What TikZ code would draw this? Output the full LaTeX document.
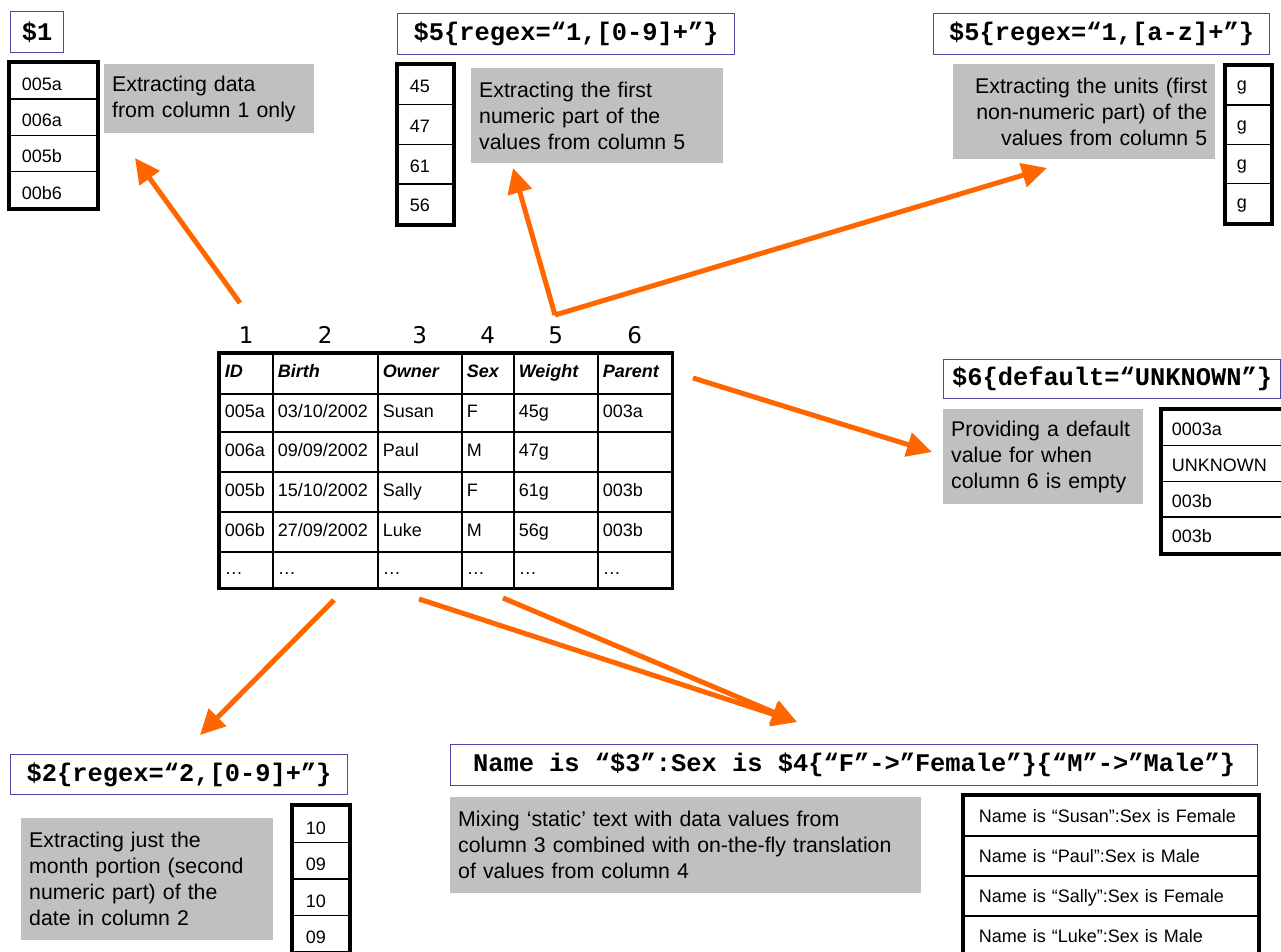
\documentclass[tikz,border=0pt]{standalone}
\usepackage{fontspec}
\setmainfont{Liberation Sans}
\newfontfamily\codefam{Liberation Mono}
\newfontfamily\numfam{DejaVu Sans}
\usetikzlibrary{arrows.meta,positioning}
\definecolor{MapOrange}{RGB}{255,102,0}
\definecolor{LabelBlue}{RGB}{75,75,165}
\definecolor{NoteGrey}{RGB}{192,192,192}
\newcommand\notefont{\fontsize{21.3}{26}\selectfont}
\newcommand\cellfont{\fontsize{18}{21}\selectfont}
\newcommand\codefont{\codefam\bfseries\fontsize{25.4}{30}\selectfont}

\begin{document}
\begin{tikzpicture}[x=1pt,y=-1pt,
  code/.style 2 args={draw=LabelBlue,line width=1.2pt,anchor=north west,minimum width=#1,minimum height=#2,inner sep=0pt,font=\codefont},
  note/.style n args={3}{fill=NoteGrey,anchor=north west,inner xsep=8pt,inner ysep=0pt,minimum width=#1,minimum height=#2,text width=#1-16pt,align=#3,font=\notefont},
  cell/.style n args={4}{draw,line width=1.5pt,anchor=north west,inner xsep=#3,inner ysep=0pt,text width=#1-2*#3,text height=#4,text depth=0pt,minimum height=#2,align=left,font=\cellfont},
  frame/.style={line width=4pt},
  colnum/.style={inner sep=0pt,font=\numfam\fontsize{23}{27}\selectfont},
  pointer/.style={draw=MapOrange,line width=5pt,-{Triangle[length=25pt,width=24pt]}}]
\useasboundingbox (0,0) rectangle (1281,951);

% source table
\def\colx{{219,272,377,461,513,597,671}}
\def\rowy{{353,393,431,471,511,551,587}}
\foreach \v [count=\c from 0] in {ID,Birth,Owner,Sex,Weight,Parent}{
   \pgfmathsetmacro\xa{\colx[\c]}
   \pgfmathsetmacro\cw{\colx[\c+1]-\colx[\c]}
   \node[cell={\cw pt}{40pt}{5pt}{8pt},font=\cellfont\bfseries\itshape] (t-0-\c) at (\xa,353) {\v};
}
\foreach \row [count=\r] in %
{{005a,03/10/2002,Susan,F,45g,003a},{006a,09/09/2002,Paul,M,47g,{}},%
 {005b,15/10/2002,Sally,F,61g,003b},{006b,27/09/2002,Luke,M,56g,003b},{…,…,…,…,…,…}}{
   \foreach \v [count=\c from 0] in \row {
      \pgfmathsetmacro\xa{\colx[\c]}
      \pgfmathsetmacro\cw{\colx[\c+1]-\colx[\c]}
      \pgfmathsetmacro\ya{\rowy[\r]}
      \pgfmathsetmacro\ch{\rowy[\r+1]-\rowy[\r]}
      \node[cell={\cw pt}{\ch pt}{5pt}{10pt}] (t-\r-\c) at (\xa,\ya) {\v};
   }
}
\draw[line width=3.5pt] (t-0-0.north west) rectangle (t-5-5.south east);
\foreach \k [count=\c from 0] in {1,...,6}
   \node[colnum,above=9pt of t-0-\c] (n\c) {\k};

% $1
\node[code={53pt}{41pt}] (lbl1) at (10,11) {\$1};
\foreach \v [count=\i from 0] in {005a,006a,005b,00b6}
   \node[cell={87pt}{36.25pt}{12pt}{19pt}] (idcol-\i) at (9,{62+36.25*\i}) {\v};
\draw[frame] (idcol-0.north west) rectangle (idcol-3.south east);
\node[note={210pt}{69pt}{left}] (idnote) at (104,64) {Extracting data\\from column 1 only};

% $5 numbers
\node[code={337pt}{41pt}] (lbl5n) at (397,13) {\$5\{regex=“1,[0-9]+”\}};
\foreach \v [count=\i from 0] in {45,47,61,56}
   \node[cell={55pt}{39.75pt}{12pt}{16pt}] (numcol-\i) at (397,{64+39.75*\i}) {\v};
\draw[frame] (numcol-0.north west) rectangle (numcol-3.south east);
\node[note={252pt}{95pt}{left}] (numnote) at (471,68) {Extracting the first\\numeric part of the\\values from column 5};

% $5 units
\node[code={336pt}{41pt}] (lbl5u) at (933,13) {\$5\{regex=“1,[a-z]+”\}};
\foreach \v [count=\i from 0] in {g,g,g,g}
   \node[cell={45pt}{39.25pt}{11pt}{11pt}] (unitcol-\i) at (1225,{65+39.25*\i}) {\v};
\draw[frame] (unitcol-0.north west) rectangle (unitcol-3.south east);
\node[note={262pt}{95pt}{right}] (unitnote) at (953,64) {Extracting the units (first\\non-numeric part) of the\\values from column 5};

% $6
\node[code={337pt}{39pt}] (lbl6) at (943,359) {\$6\{default=“UNKNOWN”\}};
\node[note={200pt}{95pt}{left}] (parnote) at (943,409) {Providing a default\\value for when\\column 6 is empty};
\foreach \v [count=\i from 0] in {0003a,UNKNOWN,003b,003b}
   \node[cell={130pt}{35.75pt}{10pt}{16pt}] (parcol-\i) at (1161,{409+35.75*\i}) {\v};
\draw[frame] (parcol-0.north west) rectangle (parcol-3.south east);

% $2
\node[code={337pt}{40pt}] (lbl2) at (10,754) {\$2\{regex=“2,[0-9]+”\}};
\node[note={252pt}{122pt}{left}] (monthnote) at (21,818) {Extracting just the\\month portion (second\\numeric part) of the\\date in column 2};
\foreach \v [count=\i from 0] in {10,09,10,09}
   \node[cell={56pt}{36.5pt}{13pt}{20pt}] (monthcol-\i) at (292,{805+36.5*\i}) {\v};
\draw[frame] (monthcol-0.north west) rectangle (monthcol-3.south east);

% $3 and $4
\node[code={807pt}{41pt}] (lbl34) at (450,744) {Name is “\$3”:Sex is \$4\{“F”->”Female”\}\{“M”->”Male”\}};
\node[note={471pt}{96pt}{left}] (namenote) at (450,797) {Mixing ‘static’ text with data values from\\column 3 combined with on-the-fly translation\\of values from column 4};
\foreach \v [count=\i from 0] in %
{Name is “Susan”:Sex is Female,Name is “Paul”:Sex is Male,Name is “Sally”:Sex is Female,Name is “Luke”:Sex is Male}
   \node[cell={294pt}{40pt}{15pt}{14pt}] (namecol-\i) at (963,{795+40*\i}) {\v};
\draw[frame] (namecol-0.north west) rectangle (namecol-3.south east);

% arrows
\coordinate (idTail) at (240,303);
\coordinate (idTip) at (135,158);
\coordinate (wtTail) at (555,315);
\coordinate (numTip) at (513,168);
\coordinate (unitTip) at (1047,168);
\coordinate (parTail) at (693,378);
\coordinate (parTip) at (932,452);
\coordinate (birthTail) at (334,600);
\coordinate (birthTip) at (200,735);
\coordinate (ownTail) at (419,599);
\coordinate (sexTail) at (503,598);
\coordinate (nameTip) at (797,722);
\draw[pointer] (idTail) -- (idTip);
\draw[pointer] (wtTail) -- (numTip);
\draw[pointer] (wtTail) -- (unitTip);
\draw[pointer] (parTail) -- (parTip);
\draw[pointer] (birthTail) -- (birthTip);
\draw[pointer] (ownTail) -- (nameTip);
\draw[pointer] (sexTail) -- (nameTip);
\end{tikzpicture}
\end{document}
